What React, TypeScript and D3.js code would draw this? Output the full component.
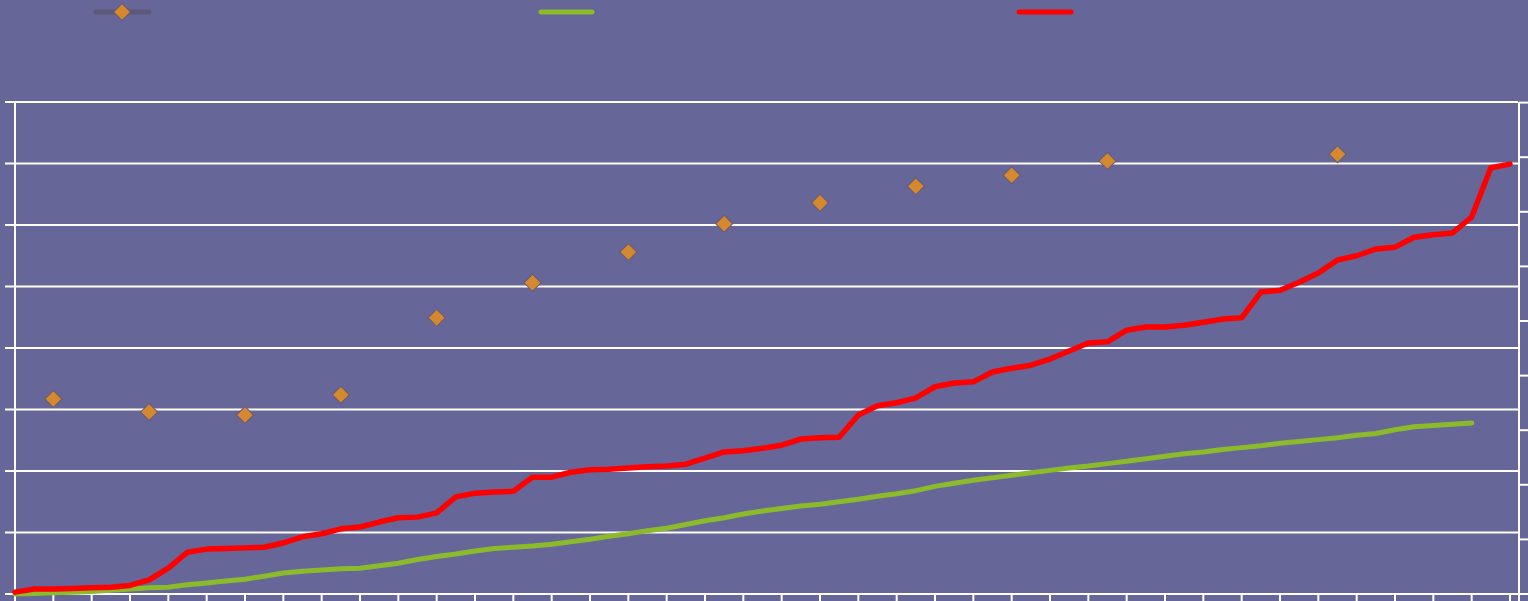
import React from 'react';
import * as d3 from 'd3';

// values, x in half-tick steps (0..78)
const redValues = [
  0.3, 0.8, 0.8, 0.9, 1.0, 1.1, 1.4, 2.3, 4.2, 6.8, 7.3, 7.4, 7.5, 7.6, 8.3, 9.3, 9.8, 10.6, 10.9, 11.7,
  12.4, 12.5, 13.2, 15.8, 16.4, 16.6, 16.7, 19.0, 19.0, 19.8, 20.2, 20.3, 20.5, 20.7, 20.8, 21.1, 22.1, 23.1, 23.3, 23.7,
  24.2, 25.2, 25.4, 25.5, 29.1, 30.6, 31.1, 31.9, 33.7, 34.3, 34.5, 36.1, 36.7, 37.2, 38.2, 39.5, 40.8, 41.0, 42.9, 43.4,
  43.4, 43.7, 44.2, 44.7, 44.9, 49.1, 49.4, 50.7, 52.2, 54.3, 55.0, 56.1, 56.4, 58.0, 58.4, 58.7, 61.3, 69.3, 69.9,
];

const greenValues = [
  0.0, 0.1, 0.2, 0.3, 0.4, 0.6, 0.8, 1.0, 1.1, 1.5, 1.8, 2.1, 2.4, 2.9, 3.4, 3.7, 3.9, 4.1, 4.2, 4.6,
  5.0, 5.6, 6.1, 6.5, 7.0, 7.4, 7.6, 7.8, 8.1, 8.5, 8.9, 9.4, 9.8, 10.3, 10.7, 11.3, 11.9, 12.4, 13.0, 13.5,
  13.9, 14.3, 14.6, 15.0, 15.4, 15.9, 16.3, 16.8, 17.5, 18.0, 18.5, 18.9, 19.3, 19.7, 20.1, 20.5, 20.8, 21.2, 21.6, 22.0,
  22.4, 22.8, 23.1, 23.5, 23.8, 24.1, 24.5, 24.8, 25.1, 25.4, 25.8, 26.1, 26.7, 27.2, 27.4, 27.6, 27.8,
];

const diamondX = [2, 7, 12, 17, 22, 27, 32, 37, 42, 47, 52, 57, 69];
const diamondValues = [31.7, 29.6, 29.1, 32.4, 44.9, 50.6, 55.6, 60.2, 63.6, 66.3, 68.1, 70.4, 71.5];

const leftTicks = [0, 10, 20, 30, 40, 50, 60, 70, 80];
const rightTicks = [0, 1, 2, 3, 4, 5, 6, 7, 8, 9];
const xTicks = d3.range(0, 79, 2);

const width = 1528;
const height = 601;
const plot = { left: 15, right: 1518, top: 102, bottom: 594 };

const bg = '#666699';
const red = '#ff0000';
const green = '#8bbb2b';
const orange = '#d4892e';
const grey = '#5b5879';

const App = () => {
  const x = d3.scaleLinear().domain([0, 78]).range([15, 1510]);
  const y = d3.scaleLinear().domain([0, 80]).range([plot.bottom, plot.top]);
  const y2 = d3.scaleLinear().domain([0, 9]).range([plot.bottom, plot.top + 0.6]);

  const line = d3.line<number>()
    .x((d, i) => x(i))
    .y(d => y(d));

  const diamond = d3.symbol(d3.symbolSquare, 145)();

  return (
    <svg
      width={width}
      height={height}
      style={{ position: 'absolute', left: 0, top: 0, display: 'block', background: bg }}
    >
      <rect x={0} y={0} width={width} height={height} fill={bg} />

      {/* legend */}
      <line x1={96} x2={149} y1={12} y2={12} stroke={grey} strokeWidth={5} strokeLinecap="round" />
      <path d={diamond!} transform="translate(122,12) rotate(45)" fill={orange} stroke="#6b5a74" strokeWidth={1} />
      <line x1={541} x2={592} y1={12} y2={12} stroke={green} strokeWidth={5} strokeLinecap="round" />
      <line x1={1019} x2={1071} y1={12} y2={12} stroke={red} strokeWidth={5} strokeLinecap="round" />

      {/* gridlines + left ticks */}
      {leftTicks.map(t => (
        <line key={'g' + t} x1={5} x2={plot.right} y1={y(t)} y2={y(t)} stroke="#ffffff" strokeWidth={2} />
      ))}

      {/* left axis */}
      <line x1={plot.left} x2={plot.left} y1={plot.top} y2={height} stroke="#ffffff" strokeWidth={2} />

      {/* right axis */}
      <line x1={plot.right + 1} x2={plot.right + 1} y1={plot.top} y2={height} stroke="#ffffff" strokeWidth={2} />
      {rightTicks.map(t => (
        <line key={'r' + t} x1={plot.right + 1} x2={width} y1={y2(t)} y2={y2(t)} stroke="#ffffff" strokeWidth={2} />
      ))}

      {/* x ticks */}
      {xTicks.map(t => (
        <line key={'x' + t} x1={x(t)} x2={x(t)} y1={plot.bottom} y2={height} stroke="#ffffff" strokeWidth={2} />
      ))}

      {/* series */}
      <path d={line(greenValues)!} fill="none" stroke={green} strokeWidth={5} strokeLinejoin="round" strokeLinecap="round" />
      <path d={line(redValues)!} fill="none" stroke={red} strokeWidth={5.5} strokeLinejoin="round" strokeLinecap="round" />

      {diamondValues.map((v, i) => (
        <path
          key={'d' + i}
          d={diamond!}
          transform={`translate(${x(diamondX[i])},${y(v)}) rotate(45)`}
          fill={orange}
          stroke="#6b5a74"
          strokeWidth={1}
        />
      ))}
    </svg>
  );
};

export default App;
